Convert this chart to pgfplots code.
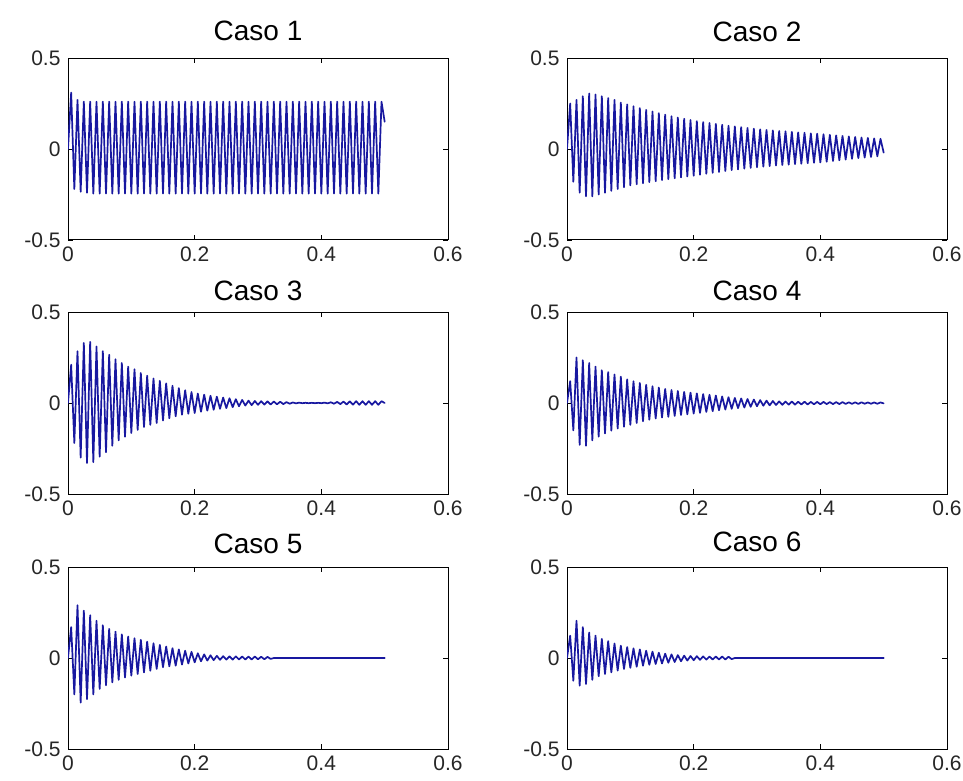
\documentclass[border=0pt]{standalone}
\usepackage{fontspec}
\setmainfont{Liberation Sans}
\usepackage{pgfplots}
\usepackage{pgfplotstable}
\pgfplotsset{compat=1.18}
\definecolor{sig}{RGB}{24,24,160}
\pgfplotstableread{
t c1 c2 c3 c4 c5 c6
0 0 0 0 0 0 0
0.005 0.31 0.25 0.21 0.12 0.17 0.123
0.01 -0.22 -0.18 -0.22 -0.15 -0.2 -0.125
0.015 0.27 0.27 0.285 0.25 0.29 0.205
0.02 -0.235 -0.24 -0.30 -0.23 -0.245 -0.152
0.025 0.26 0.29 0.33 0.235 0.26 0.17
0.03 -0.24 -0.26 -0.33 -0.235 -0.226 -0.143
0.035 0.26 0.305 0.336 0.22 0.235 0.14
0.04 -0.245 -0.26 -0.325 -0.205 -0.2 -0.12
0.045 0.26 0.30 0.31 0.2 0.205 0.123
0.05 -0.245 -0.25 -0.295 -0.185 -0.17 -0.1
0.055 0.26 0.29 0.285 0.18 0.18 0.105
0.06 -0.245 -0.24 -0.27 -0.167 -0.15 -0.088
0.065 0.26 0.28 0.265 0.17 0.16 0.093
0.07 -0.245 -0.23 -0.235 -0.152 -0.134 -0.079
0.075 0.26 0.27 0.24 0.157 0.145 0.08
0.08 -0.245 -0.22 -0.205 -0.14 -0.12 -0.069
0.085 0.26 0.255 0.22 0.145 0.13 0.068
0.09 -0.245 -0.21 -0.185 -0.13 -0.107 -0.06
0.095 0.26 0.245 0.2 0.13 0.118 0.06
0.1 -0.245 -0.2 -0.165 -0.12 -0.097 -0.054
0.105 0.26 0.235 0.185 0.12 0.109 0.053
0.11 -0.245 -0.194 -0.148 -0.11 -0.088 -0.048
0.115 0.26 0.225 0.165 0.11 0.1 0.047
0.12 -0.245 -0.188 -0.132 -0.1 -0.079 -0.042
0.125 0.26 0.215 0.15 0.1 0.09 0.04
0.13 -0.245 -0.182 -0.12 -0.092 -0.07 -0.037
0.135 0.26 0.206 0.135 0.092 0.081 0.035
0.14 -0.245 -0.177 -0.11 -0.085 -0.06 -0.033
0.145 0.26 0.197 0.122 0.085 0.072 0.029
0.15 -0.245 -0.171 -0.096 -0.08 -0.051 -0.03
0.155 0.26 0.189 0.108 0.077 0.063 0.024
0.16 -0.245 -0.166 -0.084 -0.076 -0.046 -0.026
0.165 0.26 0.18 0.095 0.071 0.054 0.02
0.17 -0.245 -0.161 -0.073 -0.071 -0.042 -0.022
0.175 0.26 0.173 0.082 0.066 0.047 0.016
0.18 -0.245 -0.156 -0.064 -0.066 -0.036 -0.018
0.185 0.26 0.166 0.07 0.061 0.04 0.013
0.19 -0.245 -0.151 -0.059 -0.062 -0.03 -0.014
0.195 0.26 0.159 0.06 0.057 0.034 0.011
0.2 -0.245 -0.147 -0.055 -0.058 -0.024 -0.012
0.205 0.26 0.153 0.052 0.053 0.026 0.01
0.21 -0.245 -0.141 -0.048 -0.054 -0.018 -0.01
0.215 0.26 0.148 0.046 0.049 0.02 0.009
0.22 -0.245 -0.136 -0.042 -0.049 -0.014 -0.009
0.225 0.26 0.143 0.04 0.045 0.015 0.008
0.23 -0.245 -0.131 -0.037 -0.045 -0.012 -0.008
0.235 0.26 0.138 0.035 0.041 0.012 0.008
0.24 -0.245 -0.126 -0.032 -0.04 -0.01 -0.008
0.245 0.26 0.133 0.03 0.036 0.01 0.008
0.25 -0.245 -0.121 -0.028 -0.036 -0.009 -0.008
0.255 0.26 0.128 0.026 0.032 0.009 0.007
0.26 -0.245 -0.116 -0.023 -0.032 -0.009 -0.006
0.265 0.26 0.124 0.021 0.028 0.009 0
0.27 -0.245 -0.112 -0.018 -0.028 -0.008 0
0.275 0.26 0.12 0.017 0.025 0.008 0
0.28 -0.245 -0.108 -0.014 -0.025 -0.008 0
0.285 0.26 0.116 0.013 0.022 0.008 0
0.29 -0.245 -0.104 -0.012 -0.021 -0.008 0
0.295 0.26 0.112 0.011 0.019 0.008 0
0.3 -0.245 -0.10 -0.01 -0.018 -0.007 0
0.305 0.26 0.108 0.01 0.016 0.007 0
0.31 -0.245 -0.097 -0.009 -0.015 -0.007 0
0.315 0.26 0.105 0.009 0.013 0.006 0
0.32 -0.245 -0.094 -0.008 -0.013 -0.005 0
0.325 0.26 0.102 0.008 0.011 0 0
0.33 -0.245 -0.091 -0.007 -0.011 0 0
0.335 0.26 0.099 0.007 0.009 0 0
0.34 -0.245 -0.088 -0.006 -0.01 0 0
0.345 0.26 0.097 0.005 0.008 0 0
0.35 -0.245 -0.086 -0.004 -0.009 0 0
0.355 0.26 0.094 0.003 0.008 0 0
0.36 -0.245 -0.083 -0.002 -0.009 0 0
0.365 0.26 0.091 0.002 0.007 0 0
0.37 -0.245 -0.081 -0.001 -0.008 0 0
0.375 0.26 0.089 0.001 0.007 0 0
0.38 -0.245 -0.078 -0.001 -0.008 0 0
0.385 0.26 0.086 0.001 0.006 0 0
0.39 -0.245 -0.076 -0.001 -0.007 0 0
0.395 0.26 0.084 0.001 0.006 0 0
0.4 -0.245 -0.074 -0.001 -0.007 0 0
0.405 0.26 0.081 0.002 0.006 0 0
0.41 -0.245 -0.07 -0.002 -0.006 0 0
0.415 0.26 0.078 0.004 0.005 0 0
0.42 -0.245 -0.066 -0.004 -0.006 0 0
0.425 0.26 0.075 0.006 0.005 0 0
0.43 -0.245 -0.062 -0.006 -0.006 0 0
0.435 0.26 0.072 0.008 0.005 0 0
0.44 -0.245 -0.058 -0.008 -0.005 0 0
0.445 0.26 0.069 0.009 0.004 0 0
0.45 -0.245 -0.054 -0.009 -0.005 0 0
0.455 0.26 0.066 0.01 0.004 0 0
0.46 -0.245 -0.05 -0.01 -0.005 0 0
0.465 0.26 0.063 0.01 0.004 0 0
0.47 -0.245 -0.047 -0.01 -0.004 0 0
0.475 0.26 0.061 0.01 0.003 0 0
0.48 -0.245 -0.044 -0.01 -0.004 0 0
0.485 0.26 0.058 0.01 0.003 0 0
0.49 -0.245 -0.04 -0.01 -0.004 0 0
0.495 0.26 0.056 0.01 0.003 0 0
0.5 0.15 -0.02 0 -0.002 0 0
}\datatab
\pgfplotsset{
  caso/.style={
    scale only axis, width=380pt, height=182pt,
    anchor=south west,
    xmin=0, xmax=0.6, ymin=-0.5, ymax=0.5,
    xtick={0,0.2,0.4,0.6}, xticklabels={0,0.2,0.4,0.6},
    ytick={-0.5,0,0.5}, yticklabels={-0.5,0,0.5},
    tick align=inside, major tick length=5pt,
    axis line style={line width=1pt, black},
    every tick/.style={black, line width=0.8pt},
    ticklabel style={font=\fontsize{21}{21}\selectfont, text=black!85},
    xticklabel style={yshift=-3pt},
    yticklabel style={xshift=-4pt},
    title style={font=\fontsize{28}{28}\selectfont},
  },
  sigline/.style={color=sig, line width=1.7pt, line join=round, line cap=round}
}
\begin{document}
\begin{tikzpicture}[x=1pt,y=1pt]
\useasboundingbox (0,0) rectangle (963,780);
\begin{axis}[caso, at={(68pt,540pt)}, title={Caso 1}, title style={yshift=8pt}]
\addplot[sigline] table[x=t,y=c1] {\datatab};
\end{axis}
\begin{axis}[caso, at={(567pt,540pt)}, title={Caso 2}, title style={yshift=7pt}]
\addplot[sigline] table[x=t,y=c2] {\datatab};
\end{axis}
\begin{axis}[caso, at={(68pt,286pt)}, title={Caso 3}, title style={yshift=2pt}]
\addplot[sigline] table[x=t,y=c3] {\datatab};
\end{axis}
\begin{axis}[caso, at={(567pt,286pt)}, title={Caso 4}, title style={yshift=2pt}]
\addplot[sigline] table[x=t,y=c4] {\datatab};
\end{axis}
\begin{axis}[caso, at={(68pt,31pt)}, title={Caso 5}, title style={yshift=4pt}]
\addplot[sigline] table[x=t,y=c5] {\datatab};
\end{axis}
\begin{axis}[caso, at={(567pt,31pt)}, title={Caso 6}, title style={yshift=6pt}]
\addplot[sigline] table[x=t,y=c6] {\datatab};
\end{axis}
\end{tikzpicture}
\end{document}
